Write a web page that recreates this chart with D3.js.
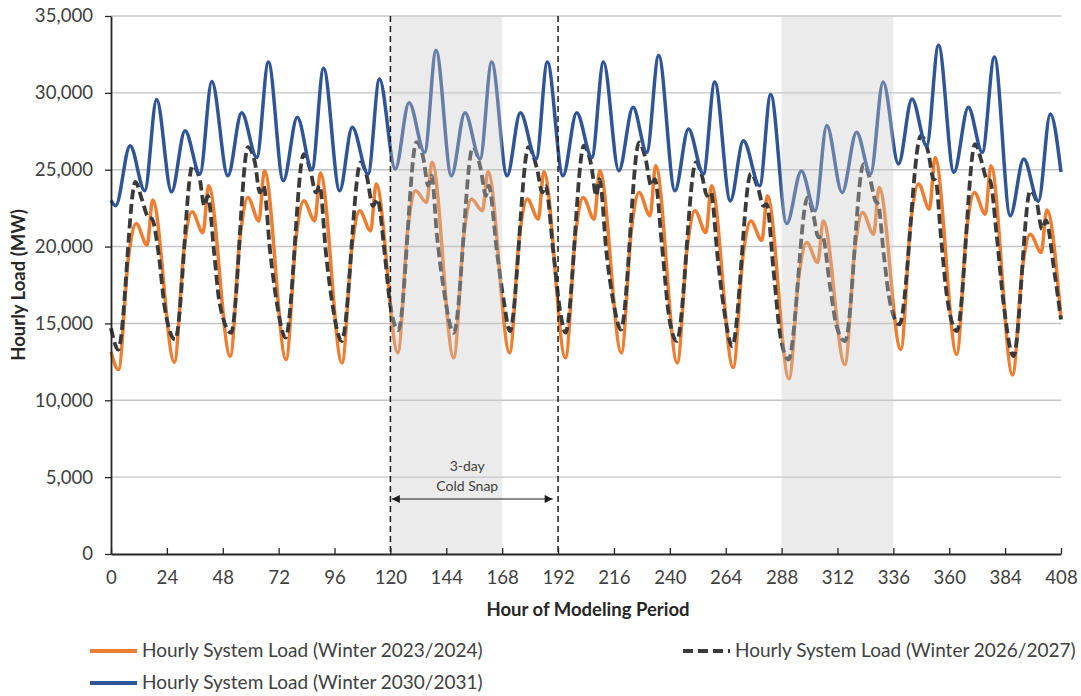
<!DOCTYPE html>
<html><head><meta charset="utf-8">
<script src="https://cdn.jsdelivr.net/npm/d3@7"></script>
<style>
body{margin:0;background:#fff;}
svg{display:block;}
text{font-family:Lato,'Open Sans',sans-serif;}
</style>
</head><body>
<svg id="chart" width="1081" height="696"></svg>
<script>
// ---------- data ----------
const xTicks = [0,24,48,72,96,120,144,168,192,216,240,264,288,312,336,360,384,408];
const yTicks = [0,5000,10000,15000,20000,25000,30000,35000];
const snapWindows = [[120,168],[288,336]];
const coldSnapBounds = [120,192];
const arrowSpan = [120.6,189.7];
const seriesNames = ["Hourly System Load (Winter 2023/2024)","Hourly System Load (Winter 2026/2027)","Hourly System Load (Winter 2030/2031)"];

const hours2324 = [0,
3.2,7.5,10.8,15.5,17.9, 27.2,31.5,34.8,39.5,41.9, 51.2,55.5,58.8,63.5,65.9, 75.2,79.5,82.8,87.5,89.9,
99.2,103.5,106.8,111.5,113.9, 123.2,127.5,130.8,135.5,137.9, 147.2,151.5,154.8,159.5,161.9,
171.2,175.5,178.8,183.5,185.9, 195.2,199.5,202.8,207.5,209.9, 219.2,223.5,226.8,231.5,233.9,
243.2,247.5,250.8,255.5,257.9, 267.2,271.5,274.8,279.5,281.9, 291.2,295.5,298.8,303.5,305.9,
315.2,319.5,322.8,327.5,329.9, 339.2,343.5,346.8,351.5,353.9, 363.2,367.5,370.8,375.5,377.9,
387.2,391.5,394.8,399.5,401.9, 408];
const load2324 = [13150,
12000,19300,21500,20100,23030, 12480,20000,22260,20900,23950, 12870,20700,23200,21670,24930, 12650,20600,22980,21670,24780,
12430,20000,22330,21020,24070, 13090,21200,23630,22870,25480, 12760,20700,23090,22330,24870,
13090,20800,23090,21780,24870, 12760,20800,23200,21780,24930, 13090,21100,23520,22000,25260,
12430,20000,22330,20910,23960, 12130,19500,21670,20400,23300, 11400,18200,20260,18960,21670,
12330,19900,22220,20800,23850, 13300,21600,24070,22430,25800, 12980,21100,23520,22110,25260,
11650,18700,20800,19610,22380, 15300];

const hours2627 = [0,
3.1,10.5,13.3,16.0,17.6,20.4,23.2,
27.6,35.0,38.1,40.1,41.6,44.3,46.6,
51.6,58.8,61.8,63.9,65.5,68.4,71.2,
75.0,82.8,85.5,88.0,89.6,92.3,95.2,
99.1,107.2,109.8,112.5,114.4,117.5,119.8,
123.4,131.2,134.2,136.2,137.7,140.0,142.7,
147.2,155.4,158.8,161.0,162.2,165.8,168.8,
171.3,179.3,183.0,185.2,186.6,190.0,193.0,
195.2,203.1,206.3,208.4,209.8,212.8,215.8,
219.0,226.8,229.6,232.0,233.6,236.6,239.8,
243.0,251.2,253.8,256.0,257.6,260.6,263.2,
266.8,274.8,278.0,280.2,281.6,284.5,287.5,
291.0,299.2,301.7,303.8,305.5,308.8,311.6,
315.3,323.2,326.0,328.2,329.6,331.8,334.6,
338.6,347.8,351.0,353.2,354.2,356.4,359.0,
363.3,371.1,374.0,376.1,377.5,380.4,383.3,
387.6,394.8,397.7,399.8,401.5,405.2,408];
const load2627 = [14700,
13300,24200,23050,21900,21800,19600,15900,
13950,25260,24390,22650,23300,19600,16350,
14390,26460,25480,23520,23960,19600,16350,
14070,26020,25040,23520,23960,19600,16130,
13850,25480,24610,22650,23090,19600,16350,
14550,26800,25700,23960,24610,20700,17430,
14390,26460,25040,23300,23960,19600,16350,
14500,26460,25040,23520,23960,19600,15700,
14400,26560,25260,23300,24390,19600,16350,
14600,26780,25700,23960,24390,20100,15300,
13850,25480,24610,23300,23520,19200,16000,
13520,24750,23740,22650,22760,18520,14170,
12650,23200,22000,20600,20700,17430,14830,
13850,25370,24390,23000,22700,19600,16350,
14930,27200,26130,24390,24300,20700,16780,
14500,26670,25480,24390,24300,20700,16350,
12870,23630,22800,21130,21700,18300,15260];

const hours3031 = [0,
2.0,8.2,14.5,19.6, 26.0,31.8,38.2,43.3, 50.2,56.1,62.6,67.6, 74.0,80.0,86.3,91.3,
98.2,103.6,110.4,115.3, 122.1,128.0,134.7,139.6, 146.2,152.0,158.5,163.5, 170.1,175.8,182.6,187.4,
194.1,200.0,206.5,211.5, 218.1,224.2,230.1,235.2, 242.2,248.0,254.4,259.3, 266.0,271.6,278.6,283.3,
290.2,296.5,302.4,307.4, 314.0,320.2,326.2,331.6, 338.2,344.0,350.3,355.4, 362.0,368.2,374.2,379.4,
386.2,392.0,398.3,403.4, 408];
const load3031 = [23000,
22650,26560,23630,29560, 23560,27540,24720,30740, 24600,28700,25800,32000, 24280,28410,25000,31600,
23630,27760,24720,30900, 25040,29350,26130,32760, 24600,28700,25700,32000, 24600,28700,25700,32000,
24600,28700,25800,32000, 24930,29060,26130,32430, 23630,27650,24720,30700, 22970,26880,23950,29900,
21500,24920,22330,27870, 23520,27430,24720,30700, 25370,29600,26560,33090, 24830,29060,26130,32330,
22000,25700,22950,28630, 24850];

// ---------- drawing ----------
const svg = d3.select("#chart");
const x = d3.scaleLinear().domain([0,408]).range([111,1061]);
const y = d3.scaleLinear().domain([0,35000]).range([554,16]);
const textCol = "#404040";

// gridlines
svg.append("g").selectAll("line").data(yTicks.filter(d=>d>0)).join("line")
  .attr("x1", x(0)).attr("x2", x(408))
  .attr("y1", d=>y(d)).attr("y2", d=>y(d))
  .attr("stroke", "#c4c4c4").attr("stroke-width", 1.4);

const line = d3.line().curve(d3.curveMonotoneX).x(d=>x(d[0])).y(d=>y(d[1]));
const series = [
  {hours: hours2324, vals: load2324, color: "#ED7D31", dash: null, w: 3.5},
  {hours: hours2627, vals: load2627, color: "#3a3a3a", dash: "10,4.5", w: 3.8},
  {hours: hours3031, vals: load3031, color: "#2F5597", dash: null, w: 3.5}
];
series.forEach(s => {
  svg.append("path")
    .datum(s.hours.map((h,i)=>[h, s.vals[i]]))
    .attr("d", line)
    .attr("fill", "none")
    .attr("stroke", s.color)
    .attr("stroke-width", s.w)
    .attr("stroke-linejoin", "round")
    .attr("stroke-dasharray", s.dash);
});

// shaded windows (overlay)
svg.append("g").selectAll("rect").data(snapWindows).join("rect")
  .attr("x", d=>x(d[0])).attr("width", d=>x(d[1])-x(d[0]))
  .attr("y", y(35000)+1).attr("height", y(0)-y(35000)-1)
  .attr("fill", "rgb(200,200,200)").attr("fill-opacity", 0.36);

// cold snap dashed bounds
svg.append("g").selectAll("line").data(coldSnapBounds).join("line")
  .attr("x1", d=>x(d)).attr("x2", d=>x(d))
  .attr("y1", y(35000)).attr("y2", y(0))
  .attr("stroke", "#1a1a1a").attr("stroke-width", 1.5).attr("stroke-dasharray", "6,4");

// axes
const yAxis = d3.axisLeft(y).tickValues(yTicks).tickFormat(d3.format(",")).tickSizeInner(6).tickSizeOuter(0).tickPadding(12);
const gy = svg.append("g").attr("transform", `translate(${x(0)},0)`).call(yAxis);
gy.select(".domain").attr("stroke", "#262626").attr("stroke-width", 1.8);
gy.selectAll(".tick line").attr("stroke", "#262626").attr("stroke-width", 1.3);
gy.selectAll("text").attr("font-size", 18.6).attr("fill", textCol).style("font-family","Lato");

const xAxis = d3.axisBottom(x).tickValues(xTicks).tickSizeInner(-6).tickSizeOuter(0).tickPadding(17);
const gx = svg.append("g").attr("transform", `translate(0,${y(0)})`).call(xAxis);
gx.select(".domain").attr("stroke", "#262626").attr("stroke-width", 1.8);
gx.selectAll(".tick line").attr("stroke", "#262626").attr("stroke-width", 1.3);
gx.selectAll("text").attr("font-size", 18.6).attr("fill", textCol).style("font-family","Lato");

// axis titles
svg.append("text").attr("x", 588).attr("y", 616).attr("text-anchor", "middle")
  .attr("font-size", 18.5).attr("font-weight", "bold").attr("fill", "#262626")
  .text("Hour of Modeling Period");
svg.append("text").attr("transform", "translate(25,285) rotate(-90)").attr("text-anchor", "middle")
  .attr("font-size", 18.5).attr("font-weight", "bold").attr("fill", "#262626")
  .text("Hourly Load (MW)");

// cold snap annotation
const defs = svg.append("defs");
["arrowEnd","arrowStart"].forEach((id,i) => {
  defs.append("marker").attr("id", id).attr("viewBox", "0 0 10 10")
    .attr("refX", 10).attr("refY", 5).attr("markerWidth", 9).attr("markerHeight", 8)
    .attr("markerUnits", "userSpaceOnUse")
    .attr("orient", i===0 ? "auto" : "auto-start-reverse")
    .append("path").attr("d", "M0,0 L10,5 L0,10 Z").attr("fill", "#1a1a1a");
});
svg.append("line").attr("x1", x(arrowSpan[0])).attr("x2", x(arrowSpan[1]))
  .attr("y1", 499).attr("y2", 499).attr("stroke", "#1a1a1a").attr("stroke-width", 1)
  .attr("marker-start", "url(#arrowStart)").attr("marker-end", "url(#arrowEnd)");
svg.append("text").attr("x", x(153)).attr("y", 471).attr("text-anchor", "middle")
  .attr("font-size", 14).attr("fill", textCol).text("3-day");
svg.append("text").attr("x", x(153)).attr("y", 491).attr("text-anchor", "middle")
  .attr("font-size", 14).attr("fill", textCol).text("Cold Snap");

// legend
const legendItems = [
  {name: seriesNames[0], color: "#ED7D31", dash: null, lx: 90, ly: 651},
  {name: seriesNames[1], color: "#3a3a3a", dash: "10,5", lx: 683, ly: 651},
  {name: seriesNames[2], color: "#2F5597", dash: null, lx: 90, ly: 683}
];
const lg = svg.append("g");
legendItems.forEach(it => {
  lg.append("line").attr("x1", it.lx).attr("x2", it.lx+47).attr("y1", it.ly).attr("y2", it.ly)
    .attr("stroke", it.color).attr("stroke-width", 3.8).attr("stroke-dasharray", it.dash);
  lg.append("text").attr("x", it.lx+52).attr("y", it.ly+6).attr("font-size", 19)
    .attr("fill", textCol).text(it.name);
});
</script>
</body></html>
